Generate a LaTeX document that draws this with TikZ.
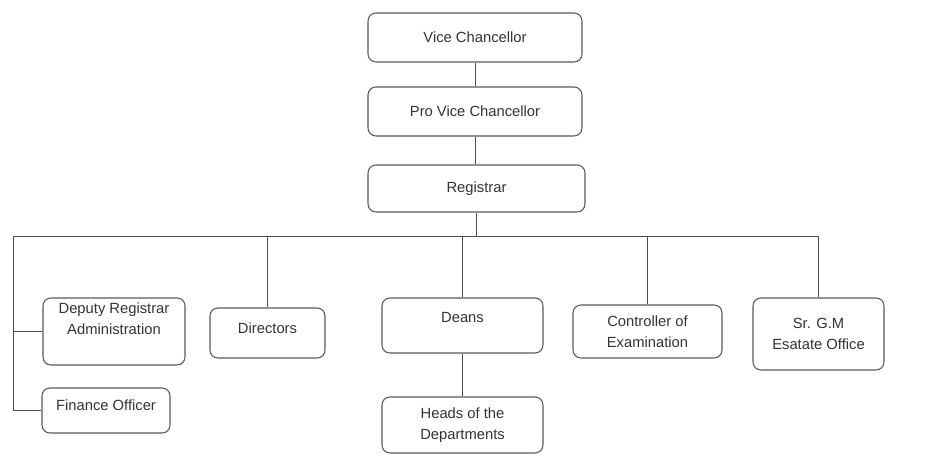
\documentclass[tikz,border=0pt]{standalone}
\usepackage{fontspec}
\setmainfont{Liberation Sans}
\usepackage{tikz}
\usetikzlibrary{positioning}

\begin{document}
\begin{tikzpicture}[x=0.02cm,y=-0.02cm]
	\tikzset{box/.style={draw=black!65,line width=0.6pt,rounded corners=4.5pt,align=center,
		inner sep=2pt,font=\fontsize{8.4}{12}\selectfont,text=black!80}}
	\tikzset{link/.style={draw=black!70,line width=0.5pt}}
	\useasboundingbox (0,0) rectangle (938,455);

	\node[box,minimum width=4.28cm,minimum height=0.98cm] (vc) at (475,37.5) {Vice Chancellor};
	\node[box,minimum width=4.28cm,minimum height=0.98cm] (pvc) at (475,111.5) {Pro Vice Chancellor};
	\node[box,minimum width=4.34cm,minimum height=0.94cm] (reg) at (476.5,188.5) {Registrar};
	\node[box,minimum width=2.84cm,minimum height=1.34cm] (dep) at (114,331.5) {Deputy Registrar\\Administration\\[3pt]};
	\node[box,minimum width=2.56cm,minimum height=0.90cm,text depth=6pt] (fin) at (106,410.5) {Finance Officer};
	\node[box,minimum width=2.30cm,minimum height=1.00cm,text depth=6pt] (dir) at (267.5,333) {Directors};
	\node[box,minimum width=3.22cm,minimum height=1.10cm,text depth=9pt] (deans) at (462.5,325.5) {Deans};
	\node[box,minimum width=3.22cm,minimum height=1.12cm] (heads) at (462.5,425) {Heads of the\\Departments};
	\node[box,minimum width=2.98cm,minimum height=1.06cm] (coe) at (647.5,331.5) {Controller of\\Examination};
	\node[box,minimum width=2.62cm,minimum height=1.44cm] (sgm) at (818.5,334) {Sr. G.M\\Esatate Office};

	%% bus under the registrar
	\coordinate (busL) at (13,236);
	\coordinate (busR) at (sgm.north |- busL);

	\path[link]
		(vc) -- (pvc)
		(pvc.south) -- (pvc.south |- reg.north)
		(reg) -- (reg |- busL)
		(busL) -- (busR)
		(busR) -- (sgm)
		(dir.north |- busL) -- (dir)
		(deans.north |- busL) -- (deans)
		(coe.north |- busL) -- (coe)
		(deans) -- (heads)
		(busL |- dep.west) -- (dep.west)
		(busL) |- (fin.west);
\end{tikzpicture}
\end{document}
